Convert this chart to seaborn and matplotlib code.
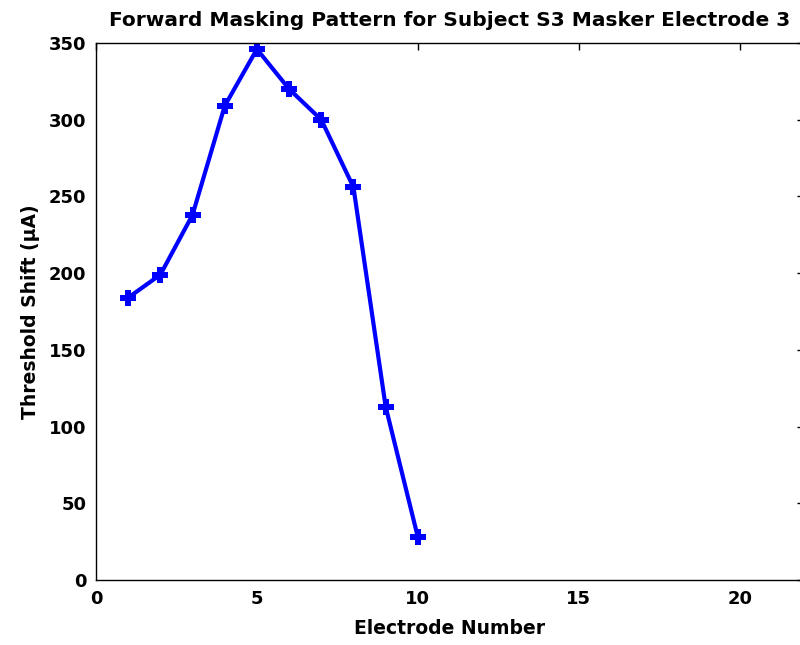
import matplotlib
matplotlib.use("Agg")
import matplotlib.pyplot as plt
import seaborn as sns
import pandas as pd

electrodes = [1, 2, 3, 4, 5, 6, 7, 8, 9, 10]
threshold_shift = [184, 199, 238, 309, 346, 320, 300, 256, 113, 28]
x_ticks = [0, 5, 10, 15, 20]
y_ticks = [0, 50, 100, 150, 200, 250, 300, 350]

sns.set_theme(style="white")
plt.rcParams['font.family'] = ['DejaVu Sans']
plt.rcParams['font.weight'] = 'bold'
plt.rcParams['text.color'] = 'black'
plt.rcParams['axes.labelcolor'] = 'black'

df = pd.DataFrame({"Electrode": electrodes, "Shift": threshold_shift})

fig = plt.figure(figsize=(8, 6.45), dpi=100)
ax = fig.add_axes([96 / 800, (645 - 580) / 645, (804 - 96) / 800, (580 - 43) / 645])

sns.lineplot(data=df, x="Electrode", y="Shift", ax=ax, color="#0000ff",
             linewidth=3, marker="P", markersize=11, markeredgewidth=0,
             markerfacecolor="#0000ff")

ax.set_xlim(0, 22)
ax.set_ylim(0, 350)
ax.set_xticks(x_ticks)
ax.set_yticks(y_ticks)
ax.tick_params(direction="in", length=5, width=1, colors="black",
               top=True, right=True, labelsize=13, pad=7)
for lab in ax.get_xticklabels() + ax.get_yticklabels():
    lab.set_fontweight("bold")
for s in ax.spines.values():
    s.set_color("black")
    s.set_linewidth(1)
    s.set_visible(True)

ax.set_xlabel("Electrode Number", fontsize=13.5, fontweight="bold", labelpad=8, color="black")
ax.set_ylabel("Threshold Shift (μA)", fontsize=13.5, fontweight="bold", labelpad=6, color="black")
ax.set_title("Forward Masking Pattern for Subject S3 Masker Electrode 3",
             fontsize=14.5, fontweight="bold", pad=12, color="black")

fig.savefig("out.png", dpi=100, facecolor="white")
